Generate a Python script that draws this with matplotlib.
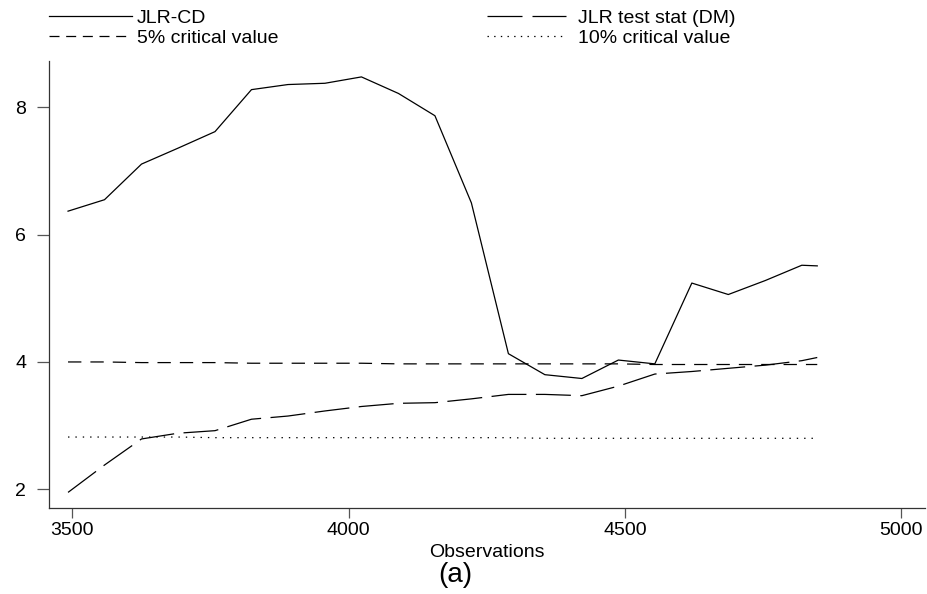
import matplotlib
matplotlib.use("Agg")
import matplotlib.pyplot as plt
from matplotlib.lines import Line2D

plt.rcParams['font.family'] = ['Liberation Sans', 'DejaVu Sans']
plt.rcParams['lines.scale_dashes'] = False

# observations (sample size at each estimation point)
obs = [3492, 3558, 3625, 3691, 3758, 3824, 3890, 3957, 4023, 4090, 4156,
       4222, 4289, 4355, 4422, 4488, 4554, 4621, 4687, 4754, 4820, 4848]

jlr_cd = [6.37, 6.55, 7.11, 7.36, 7.62, 8.28, 8.36, 8.38, 8.48, 8.22, 7.87,
          6.50, 4.13, 3.80, 3.74, 4.03, 3.97, 5.24, 5.06, 5.28, 5.52, 5.51]

jlr_dm = [1.95, 2.38, 2.79, 2.88, 2.92, 3.10, 3.15, 3.23, 3.30, 3.35, 3.36,
          3.42, 3.49, 3.49, 3.47, 3.62, 3.81, 3.85, 3.90, 3.95, 4.02, 4.07]

crit5 = [4.00, 4.00, 3.99, 3.99, 3.99, 3.98, 3.98, 3.98, 3.98, 3.97, 3.97,
         3.97, 3.97, 3.97, 3.97, 3.97, 3.96, 3.96, 3.96, 3.96, 3.96, 3.96]

crit10 = [2.82, 2.82, 2.82, 2.82, 2.81, 2.81, 2.81, 2.81, 2.81, 2.81, 2.81,
          2.81, 2.81, 2.80, 2.80, 2.80, 2.80, 2.80, 2.80, 2.80, 2.80, 2.80]

W, H = 928, 594
fig = plt.figure(figsize=(W / 100, H / 100), dpi=100)
ax = fig.add_axes([48.7 / W, 1 - 508.3 / H, (925 - 48.7) / W, (508.3 - 61) / H])

lw = 0.9
ax.plot(obs, jlr_cd, color='black', lw=lw)
ax.plot(obs, jlr_dm, color='black', lw=lw, dashes=(25.2, 6.8))
ax.plot(obs, crit5, color='black', lw=lw, dashes=(9.6, 6.5))
ax.plot(obs, crit10, color='black', lw=lw, dashes=(1.0, 4.3))

ax.set_xlim(3457, 5043)
ax.set_ylim(1.70, 8.73)
ax.set_xticks([3500, 4000, 4500, 5000])
ax.set_yticks([2, 4, 6, 8])

for s in ['top', 'right']:
    ax.spines[s].set_visible(False)
for s in ['left', 'bottom']:
    ax.spines[s].set_color('#333333')
    ax.spines[s].set_linewidth(0.9)

ax.tick_params(axis='x', length=7.2, width=0.9, color='#555555', pad=3, labelsize=14)
ax.tick_params(axis='y', length=8.6, width=0.9, color='#555555', pad=7.5, labelsize=14)

fig.text(487 / W, 1 - 556.7 / H, 'Observations', ha='center', va='baseline', fontsize=14)
fig.text(455 / W, 1 - 581.7 / H, '(a)', ha='center', va='baseline', fontsize=20)

# legend, two columns drawn as two legends
h_cd = Line2D([], [], color='black', lw=lw)
h_5 = Line2D([], [], color='black', lw=lw, dashes=(7.2, 4.8))
h_dm = Line2D([], [], color='black', lw=lw, dashes=(25.2, 7.2))
h_10 = Line2D([], [], color='black', lw=lw, dashes=(1.0, 3.8))

leg1 = fig.legend([h_cd, h_5], ['JLR-CD', '5% critical value'], loc='upper left',
                  bbox_to_anchor=(49 / W, 1 - 9 / H), frameon=False, fontsize=14,
                  borderpad=0, borderaxespad=0, handlelength=4.27,
                  handletextpad=0.26, labelspacing=0.12)
leg2 = fig.legend([h_dm, h_10], ['JLR test stat (DM)', '10% critical value'], loc='upper left',
                  bbox_to_anchor=(486.7 / W, 1 - 9 / H), frameon=False, fontsize=14,
                  borderpad=0, borderaxespad=0, handlelength=4.1,
                  handletextpad=0.62, labelspacing=0.12)

fig.savefig('out.png', dpi=100)
